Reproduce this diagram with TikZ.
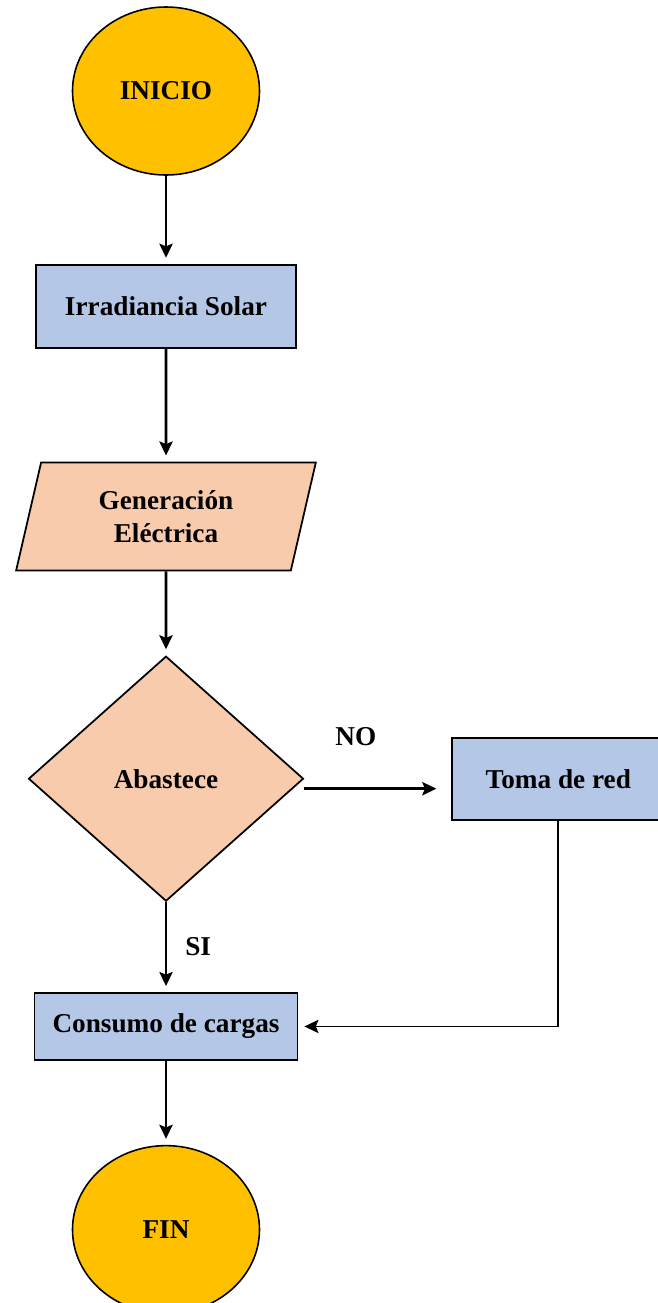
\documentclass[tikz,border=0pt]{standalone}
\usepackage{fontspec}
\setmainfont{Liberation Serif}
\usepackage{tikz}
\usetikzlibrary{shapes,decorations}
\usetikzlibrary{arrows.meta, positioning}

\definecolor{gold}{HTML}{FFC000}
\definecolor{boxblue}{HTML}{B4C7E7}
\definecolor{peach}{HTML}{F8CBAD}

\begin{document}
\begin{tikzpicture}[
    node distance=1.7cm,
    every node/.style={font=\fontsize{15.5}{18.5}\selectfont\bfseries, align=center},
    startstop/.style={ellipse, draw, line width=0.9pt, fill=gold, minimum width=3.74cm, minimum height=3.36cm},
    procbox/.style={rectangle, draw, line width=1pt, fill=boxblue, minimum height=1.66cm},
    iobox/.style={trapezium, trapezium left angle=77, trapezium right angle=103, trapezium stretches=true, draw, line width=1pt, fill=peach, minimum width=6cm, minimum height=2.16cm},
    decision/.style={diamond, draw, line width=1pt, fill=peach, minimum width=5.5cm, minimum height=4.9cm, inner sep=0pt},
    tag/.style={inner sep=0pt},
    arrow/.style={-{Stealth[length=8pt, width=7.5pt, inset=1.5pt]}, line width=1.5pt, shorten >=0.12cm}
    ]
\useasboundingbox (0,0) rectangle (13.16,-26.06);

% Nodes
\node (inicio) [startstop] at (3.32,-1.82) {INICIO};
\node (irr) [procbox, minimum width=5.2cm, below=1.76cm of inicio] {Irradiancia Solar};
\node (gen) [iobox, below=2.26cm of irr] {Generación\\Eléctrica};
\node (abas) [decision, below=1.68cm of gen] {Abastece};
\node (toma) [procbox, minimum width=4.24cm, minimum height=1.64cm, right=2.94cm of abas] {Toma de red};
\node (cons) [procbox, minimum width=5.26cm, minimum height=1.34cm, below=1.8cm of abas] {Consumo de cargas};
\node (fin) [startstop, below=1.68cm of cons] {FIN};

% Arrows
\draw[arrow] (inicio) -- (irr);
\draw[arrow] (irr) -- (gen);
\draw[arrow] (gen) -- (abas);
\draw[arrow, shorten >=0.3cm] ([yshift=-0.2cm]abas.east) -- node[tag, above=0.84cm, pos=0.35] (no) {NO} ([yshift=-0.2cm]toma.west);
\draw[arrow] (abas) -- node[tag, right=0.36cm] (si) {SI} (cons);
\draw[arrow, line width=1pt] (toma.south) |- (cons.east);
\draw[arrow] (cons) -- (fin);

\end{tikzpicture}
\end{document}
